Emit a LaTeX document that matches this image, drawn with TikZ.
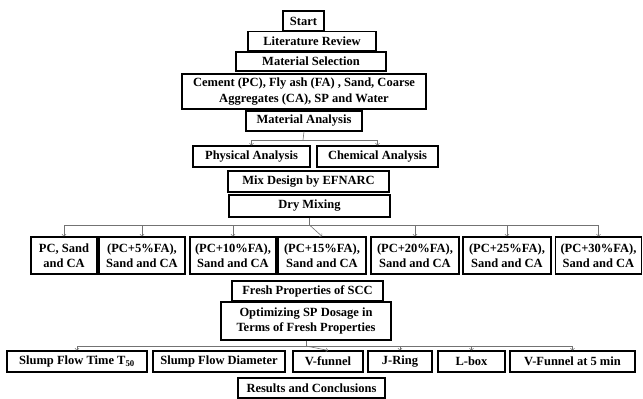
\documentclass[tikz,border=0pt]{standalone}
\usepackage{fontspec}
\setmainfont{Liberation Serif}
\tikzset{
  box/.style={draw,line width=1.3pt,fill=white,font=\fontsize{12.5}{15.5}\selectfont\bfseries,align=center,inner sep=0pt},
  link/.style={draw=black!55,line width=0.6pt},
}
\begin{document}
\begin{tikzpicture}[x=1pt,y=-1pt]
	\useasboundingbox (0,0) rectangle (643,399);
	% W = width, H = height
	\node[box,minimum width=41,minimum height=20] (start) at (303.5,21) {Start};
	\node[box,minimum width=128,minimum height=19] (litrev) at (312,41) {Literature Review};
	\node[box,minimum width=150,minimum height=19] (matsel) at (311,61.5) {Material Selection};
	\node[box,minimum width=244,minimum height=35] (cement) at (304,91.5) {Cement (PC), Fly ash (FA) , Sand, Coarse\\Aggregates (CA), SP and Water};
	\node[box,minimum width=116,minimum height=20] (matana) at (304,121) {Material Analysis};
	\node[box,minimum width=117,minimum height=21] (phys) at (251.5,156.5) {Physical Analysis};
	\node[box,minimum width=121,minimum height=21] (chem) at (377.5,156.5) {Chemical Analysis};
	\node[box,minimum width=161,minimum height=21] (mix) at (308.5,181.5) {Mix Design by EFNARC};
	\node[box,minimum width=161,minimum height=22] (dry) at (309.5,206) {Dry Mixing};
	% mixes
	\node[box,minimum width=66,minimum height=37] (m0) at (64,255.5) {PC, Sand\\and CA};
	\node[box,minimum width=86,minimum height=37] (m5) at (142,255.5) {(PC+5\%FA),\\Sand and CA};
	\node[box,minimum width=86,minimum height=37] (m10) at (233,255.5) {(PC+10\%FA),\\Sand and CA};
	\node[box,minimum width=88,minimum height=37] (m15) at (322,255.5) {(PC+15\%FA),\\Sand and CA};
	\node[box,minimum width=88,minimum height=37] (m20) at (415,255.5) {(PC+20\%FA),\\Sand and CA};
	\node[box,minimum width=88,minimum height=37] (m25) at (507,255.5) {(PC+25\%FA),\\Sand and CA};
	\node[box,minimum width=86,minimum height=37] (m30) at (598.5,255.5) {(PC+30\%FA),\\Sand and CA};
	\node[box,minimum width=151,minimum height=20] (fresh) at (307.5,291) {Fresh Properties of SCC};
	\node[box,minimum width=170,minimum height=38] (opt) at (306,321) {Optimizing SP Dosage in\\Terms of Fresh Properties};
	% tests
	\node[box,minimum width=140,minimum height=21] (t50) at (77,361.5) {Slump Flow Time T\textsubscript{50}};
	\node[box,minimum width=132,minimum height=21] (dia) at (219,361.5) {Slump Flow Diameter};
	\node[box,minimum width=70,minimum height=21] (vf) at (328,361.5) {V-funnel};
	\node[box,minimum width=64,minimum height=21] (jr) at (400,361.5) {J-Ring};
	\node[box,minimum width=67,minimum height=21] (lb) at (471.5,361.5) {L-box};
	\node[box,minimum width=125,minimum height=21] (vf5) at (572.5,361.5) {V-Funnel at 5 min};
	\node[box,minimum width=147,minimum height=20] (res) at (311.5,388) {Results and Conclusions};
	% branches
	\coordinate (j1) at (303,140); \coordinate (j2) at (309.5,225); \coordinate (j3) at (306,346);
	\draw[link] (matana.south) -- (j1);
	\draw[link,->] (j1) -| (phys.north); \draw[link,->] (j1) -| (chem.north);
	\draw[link] (dry.south) -- (j2);
	\foreach \m in {m0,m5,m10,m20,m25,m30} \draw[link,->] (j2) -| (\m.north);
	\draw[link,->] (j2) -- (m15.north);
	\draw[link] (opt.south) -- (j3);
	\foreach \t in {t50,jr,lb,vf5} \draw[link,->] (j3) -| (\t.north);
	\draw[link,->] (j3) -- (vf.north);
\end{tikzpicture}
\end{document}
